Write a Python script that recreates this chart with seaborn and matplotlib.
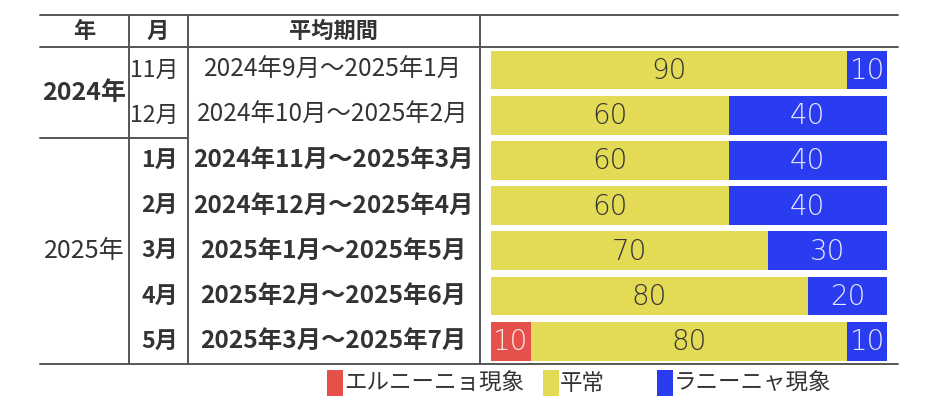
import matplotlib
matplotlib.use("Agg")
import matplotlib.pyplot as plt
from matplotlib.patches import Rectangle
import seaborn as sns
import pandas as pd
import numpy as np

sns.set_style("white")
plt.rcParams['font.family'] = ['Noto Sans CJK JP', 'DejaVu Sans']

# ---- data ----
years = ["2024年", "2025年"]
year_rows = [[0, 1], [2, 3, 4, 5, 6]]
months = ["11月", "12月", "1月", "2月", "3月", "4月", "5月"]
periods = ["2024年9月～2025年1月", "2024年10月～2025年2月",
           "2024年11月～2025年3月", "2024年12月～2025年4月",
           "2025年1月～2025年5月", "2025年2月～2025年6月",
           "2025年3月～2025年7月"]
bold_rows = [False, False, True, True, True, True, True]
elnino = [0, 0, 0, 0, 0, 0, 10]
normal = [90, 60, 60, 60, 70, 80, 80]
lanina = [10, 40, 40, 40, 30, 20, 10]
series_names = ["エルニーニョ現象", "平常", "ラニーニャ現象"]
colors = ["#E5504B", "#E3DA55", "#2A3CF0"]
text_colors = ["#F8E8E8", "#333333", "#E8E8FF"]

W, H = 934, 408
fig = plt.figure(figsize=(W / 100, H / 100), dpi=100)

# background axes in pixel coords for table
bg = fig.add_axes([0, 0, 1, 1])
bg.set_xlim(0, W)
bg.set_ylim(H, 0)
bg.axis("off")

row0, rstep = 47.4, 45.2
nrows = len(months)
top_y = 15
bottom_y = row0 + rstep * nrows
lc = "#555555"
lw = 1.4
bg.plot([40, 898], [top_y, top_y], color=lc, lw=lw)
bg.plot([40, 898], [row0, row0], color=lc, lw=lw)
bg.plot([40, 898], [bottom_y, bottom_y], color=lc, lw=lw)
bg.plot([40, 188], [row0 + rstep * 2, row0 + rstep * 2], color=lc, lw=lw)
for x in (129, 188, 480):
    bg.plot([x, x], [top_y, bottom_y], color=lc, lw=lw)

tc = "#333333"
fs = 17.6
hfs = 16
hy = (top_y + row0) / 2
bg.text(84, hy, "年", ha="center", va="center", fontsize=hfs, fontweight="bold", color=tc)
bg.text(158, hy, "月", ha="center", va="center", fontsize=hfs, fontweight="bold", color=tc)
bg.text(333, hy, "平均期間", ha="center", va="center", fontsize=hfs, fontweight="bold", color=tc)

for yi, (yr, rows) in enumerate(zip(years, year_rows)):
    cy = row0 + rstep * (np.mean(rows) + 0.5)
    bg.text(84, cy, yr, ha="center", va="center", fontsize=18,
            fontweight="bold" if yi == 0 else "normal", color=tc)

for i in range(nrows):
    cy = row0 + rstep * (i + 0.5)
    w = "bold" if bold_rows[i] else "normal"
    bg.text(178, cy, months[i], ha="right", va="center", fontsize=16.6, fontweight=w, color=tc)
    bg.text(333, cy, periods[i], ha="center", va="center", fontsize=fs, fontweight=w, color=tc)

# bar axes
ax = fig.add_axes([491 / W, 1 - bottom_y / H, (887 - 491) / W, (bottom_y - row0) / H])
df = pd.DataFrame({"month": months, "elnino": elnino, "normal": normal, "lanina": lanina})
df["c1"] = df["elnino"]
df["c2"] = df["elnino"] + df["normal"]
df["c3"] = df["c2"] + df["lanina"]

for col, c in zip(["c3", "c2", "c1"], colors[::-1]):
    sns.barplot(data=df, x=col, y="month", orient="h", color=c, width=0.86,
                saturation=1, ax=ax, linewidth=0)

ax.set_xlim(0, 100)
ax.set_ylim(nrows - 0.5, -0.5)
ax.axis("off")

for i in range(nrows):
    left = 0
    for val, tcol in zip([elnino[i], normal[i], lanina[i]], text_colors):
        if val > 0:
            ax.text(left + val / 2, i + 0.02, str(val), ha="center", va="center",
                    fontsize=20, color=tcol, fontweight="light", family="DejaVu Sans")
        left += val

# legend (drawn as patches + text)
leg_items = [(327, series_names[0]), (543, series_names[1]), (657, series_names[2])]
for (x, name), c in zip(leg_items, colors):
    bg.add_patch(Rectangle((x, 370), 16, 26, color=c, lw=0))
    bg.text(x + 17, 383, name, ha="left", va="center", fontsize=16.2, color=tc)

fig.savefig("out.png", dpi=100)
